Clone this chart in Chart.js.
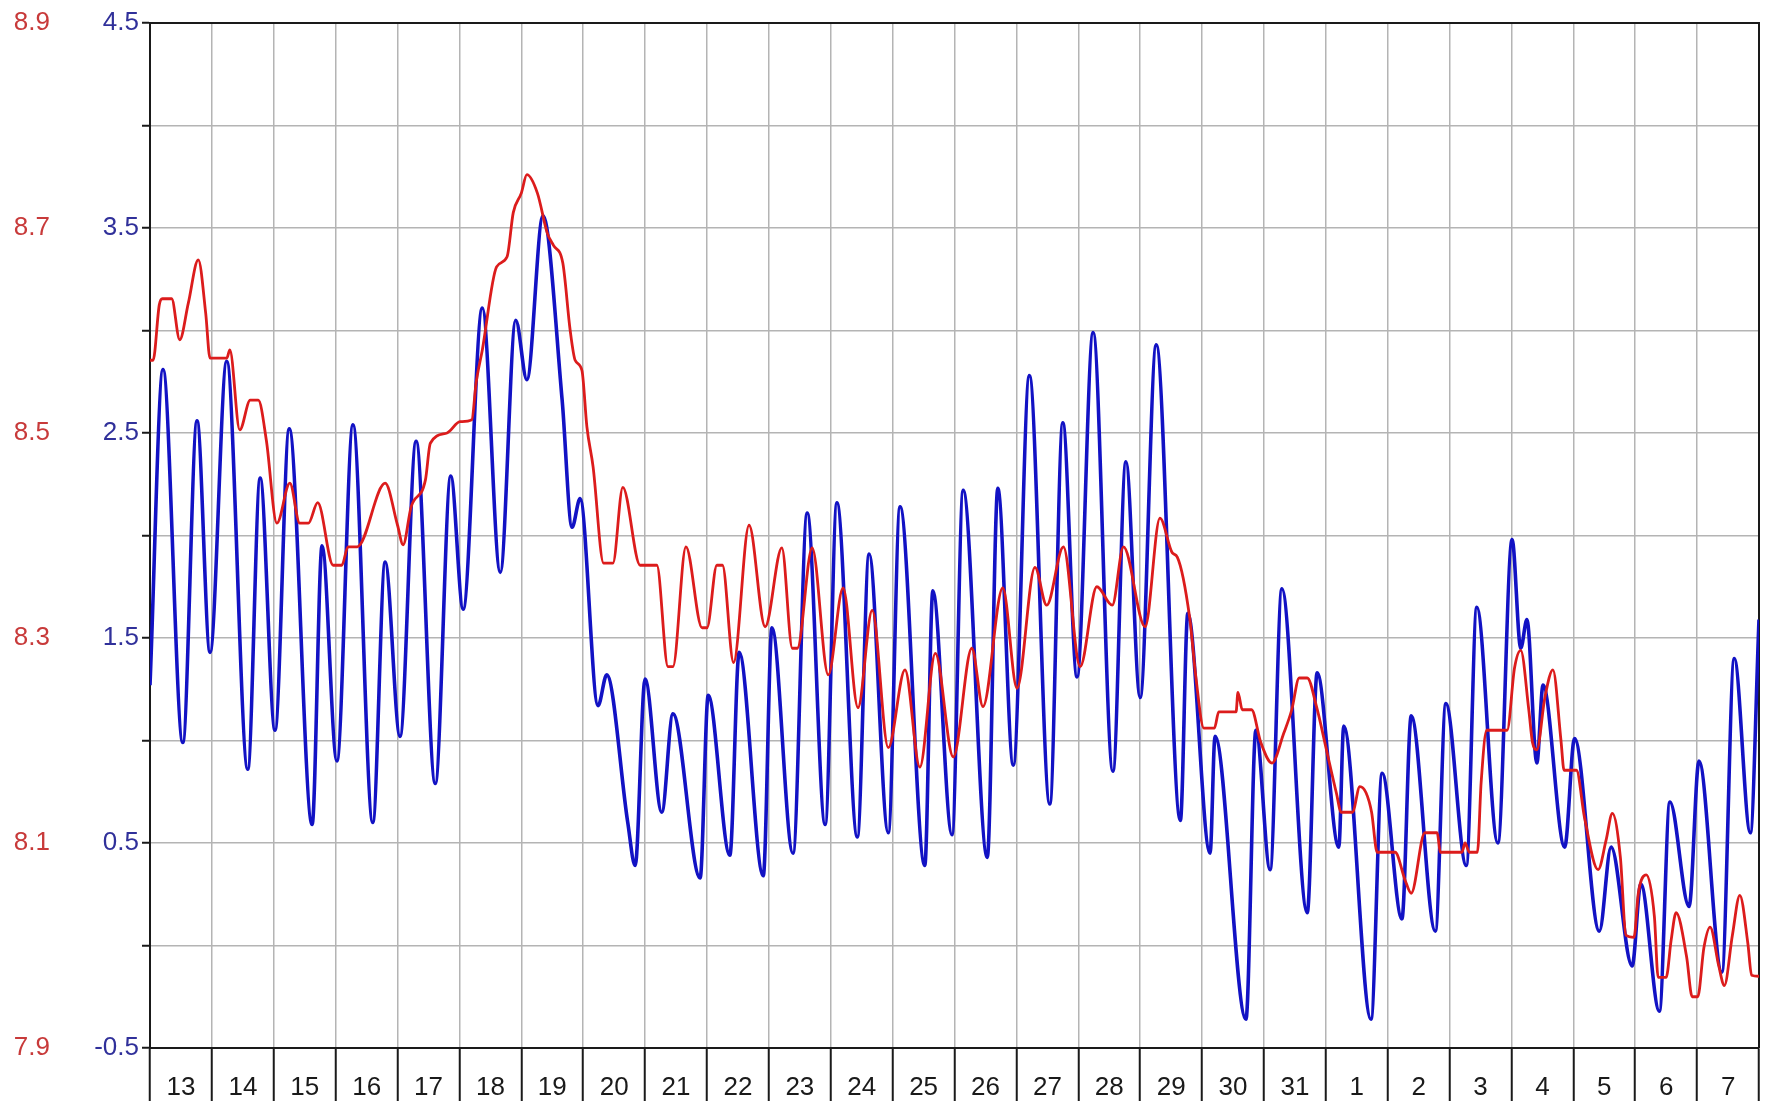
<!DOCTYPE html>
<html><head><meta charset="utf-8">
<script src="https://cdn.jsdelivr.net/npm/chart.js@4/dist/chart.umd.min.js"></script>
<style>html,body{margin:0;padding:0;background:#fff;}#wrap{width:1775px;height:1101px;}</style>
</head><body><div id="wrap"><canvas id="c" width="1775" height="1101"></canvas></div>
<script>
const dayLabels = ['13','14','15','16','17','18','19','20','21','22','23','24','25','26','27','28','29','30','31','1','2','3','4','5','6','7'];
const blueTicks = [-0.5,0,0.5,1,1.5,2,2.5,3,3.5,4,4.5];
const redTicks = [7.9,8.1,8.3,8.5,8.7,8.9];

const blueDays = [0.00,0.21,0.53,0.76,0.97,1.24,1.58,1.78,2.02,2.25,2.62,2.78,3.02,3.28,3.60,3.80,4.04,4.30,4.61,4.86,5.06,5.37,5.66,5.91,6.09,6.35,6.66,6.82,6.95,7.24,7.38,7.72,7.84,8.00,8.27,8.45,8.89,9.02,9.37,9.52,9.91,10.05,10.39,10.62,10.91,11.10,11.43,11.62,11.93,12.12,12.52,12.65,12.96,13.14,13.53,13.70,13.95,14.21,14.54,14.75,14.98,15.24,15.56,15.77,16.00,16.26,16.65,16.77,17.13,17.21,17.71,17.87,18.10,18.29,18.70,18.86,19.21,19.29,19.73,19.91,20.23,20.38,20.77,20.94,21.27,21.44,21.78,22.01,22.15,22.25,22.41,22.51,22.86,23.02,23.42,23.61,23.95,24.09,24.39,24.56,24.87,25.03,25.40,25.60,25.86,26.00];
const blueLevel = [1.27,2.81,0.99,2.56,1.43,2.85,0.86,2.28,1.05,2.52,0.59,1.95,0.90,2.54,0.60,1.87,1.02,2.46,0.79,2.29,1.64,3.11,1.82,3.05,2.76,3.56,2.66,2.04,2.18,1.17,1.32,0.60,0.39,1.30,0.65,1.13,0.33,1.22,0.44,1.43,0.34,1.55,0.45,2.11,0.59,2.16,0.53,1.91,0.55,2.14,0.39,1.73,0.54,2.22,0.43,2.23,0.88,2.78,0.69,2.55,1.31,2.99,0.85,2.36,1.21,2.93,0.61,1.62,0.45,1.02,-0.36,1.05,0.37,1.74,0.16,1.33,0.48,1.07,-0.36,0.84,0.13,1.12,0.07,1.18,0.39,1.65,0.50,1.98,1.45,1.59,0.89,1.27,0.48,1.01,0.07,0.48,-0.10,0.30,-0.32,0.70,0.19,0.90,-0.13,1.40,0.55,1.59];

const redDays = [0.00,0.05,0.15,0.20,0.35,0.48,0.62,0.78,0.90,0.97,1.24,1.29,1.45,1.62,1.75,1.88,2.05,2.26,2.42,2.56,2.71,2.96,3.10,3.20,3.35,3.80,4.00,4.09,4.22,4.45,4.53,4.80,5.01,5.20,5.27,5.37,5.60,5.77,5.87,6.00,6.09,6.26,6.42,6.52,6.67,6.79,6.87,6.98,7.06,7.16,7.33,7.48,7.64,7.92,8.19,8.37,8.45,8.66,8.92,9.00,9.16,9.25,9.43,9.68,9.94,10.21,10.38,10.46,10.70,10.96,11.20,11.44,11.67,11.93,12.20,12.44,12.69,12.98,13.28,13.46,13.78,14.01,14.30,14.49,14.76,15.03,15.30,15.55,15.73,16.08,16.32,16.52,16.60,16.80,16.90,17.03,17.20,17.27,17.55,17.58,17.65,17.80,17.95,18.13,18.32,18.45,18.57,18.70,18.85,19.01,19.17,19.25,19.43,19.55,19.65,19.74,19.83,20.12,20.28,20.38,20.60,20.80,20.85,21.20,21.25,21.32,21.45,21.51,21.60,21.93,22.05,22.15,22.28,22.34,22.41,22.54,22.67,22.80,22.85,23.05,23.18,23.40,23.53,23.63,23.76,23.85,23.98,24.05,24.18,24.31,24.37,24.50,24.58,24.66,24.83,24.92,25.01,25.11,25.21,25.35,25.44,25.57,25.69,25.82,25.88,26.00];
const redLevel = [8.571,8.571,8.625,8.631,8.631,8.591,8.627,8.669,8.617,8.573,8.573,8.581,8.503,8.532,8.532,8.493,8.412,8.451,8.412,8.412,8.432,8.371,8.371,8.389,8.389,8.451,8.410,8.391,8.428,8.454,8.490,8.500,8.511,8.513,8.549,8.581,8.662,8.672,8.715,8.734,8.752,8.734,8.695,8.683,8.666,8.600,8.571,8.561,8.506,8.467,8.373,8.373,8.447,8.371,8.371,8.272,8.272,8.389,8.310,8.310,8.371,8.371,8.276,8.410,8.311,8.388,8.290,8.290,8.388,8.264,8.349,8.232,8.327,8.193,8.269,8.174,8.285,8.184,8.290,8.233,8.349,8.251,8.369,8.332,8.389,8.272,8.350,8.332,8.389,8.311,8.417,8.383,8.379,8.320,8.262,8.212,8.212,8.228,8.228,8.247,8.230,8.230,8.198,8.178,8.207,8.230,8.261,8.261,8.233,8.191,8.149,8.130,8.130,8.155,8.149,8.130,8.091,8.091,8.064,8.051,8.110,8.110,8.091,8.091,8.100,8.091,8.091,8.159,8.210,8.210,8.271,8.288,8.230,8.198,8.191,8.242,8.269,8.200,8.171,8.171,8.125,8.074,8.103,8.129,8.086,8.010,8.008,8.051,8.069,8.028,7.969,7.969,8.005,8.032,7.989,7.950,7.950,7.998,8.018,7.980,7.961,8.010,8.049,8.002,7.971,7.970];

const FONT = {family: "'Liberation Sans', Arial, sans-serif", size: 26};
const GRID = '#b4b4b4';
const AXIS = '#1a1a1a';

const framePlugin = {
  id: 'frame',
  beforeDatasetsDraw(chart) {
    const {ctx, chartArea: a} = chart;
    ctx.save();
    ctx.strokeStyle = AXIS; ctx.lineWidth = 2;
    ctx.beginPath();
    ctx.moveTo(a.left, a.top); ctx.lineTo(a.right, a.top); ctx.lineTo(a.right, a.bottom);
    ctx.stroke();
    ctx.restore();
  }
};

function noPad(s) { s.paddingTop = 0; s.paddingBottom = 0; s.paddingLeft = 0; s.paddingRight = 0; }

new Chart(document.getElementById('c'), {
  type: 'line',
  data: {
    datasets: [
      {
        label: 'red',
        data: redDays.map((d, i) => ({x: d, y: redLevel[i]})),
        yAxisID: 'yR',
        borderColor: '#dc1c1c',
        borderWidth: 2.8,
        pointRadius: 0,
        cubicInterpolationMode: 'monotone',
        fill: false
      },
      {
        label: 'blue',
        data: blueDays.map((d, i) => ({x: d, y: blueLevel[i]})),
        yAxisID: 'yB',
        borderColor: '#1212c4',
        borderWidth: 3.6,
        pointRadius: 0,
        cubicInterpolationMode: 'monotone',
        fill: false
      }
    ]
  },
  options: {
    responsive: false,
    animation: false,
    devicePixelRatio: 1,
    layout: {padding: {top: 23, right: 16, bottom: 0, left: 0}},
    plugins: {legend: {display: false}, tooltip: {enabled: false}},
    scales: {
      x: {
        type: 'linear', position: 'bottom', min: 0, max: dayLabels.length,
        afterBuildTicks: s => { s.ticks = dayLabels.map((_, i) => ({value: i})).concat([{value: dayLabels.length}]); },
        afterFit: s => { s.height = 53; noPad(s); },
        grid: {color: GRID, lineWidth: 1.5, tickColor: AXIS, tickWidth: 2, tickLength: 53},
        border: {color: AXIS, width: 2},
        ticks: {autoSkip: false, maxRotation: 0, minRotation: 0, labelOffset: 31, padding: -29, color: '#1a1a1a', font: FONT,
          callback: v => (dayLabels[v] !== undefined ? dayLabels[v] : '')}
      },
      yB: {
        type: 'linear', position: 'left', weight: 0, min: -0.5, max: 4.5,
        afterBuildTicks: s => { s.ticks = blueTicks.map(v => ({value: v})); },
        afterFit: s => { s.width = 60; noPad(s); },
        grid: {color: GRID, lineWidth: 1.5, tickColor: AXIS, tickWidth: 2, tickLength: 8},
        border: {color: AXIS, width: 2},
        ticks: {padding: 3, color: '#30309a', font: FONT,
          callback: v => (Math.round(v * 2) % 2 !== 0 ? v.toFixed(1) : '')}
      },
      yR: {
        type: 'linear', position: 'left', weight: 1, min: 7.9, max: 8.9,
        afterBuildTicks: s => { s.ticks = redTicks.map(v => ({value: v})); },
        afterFit: s => { s.width = 90; noPad(s); },
        grid: {display: false, drawTicks: false},
        border: {display: false},
        ticks: {padding: 40, color: '#c83a3a', font: FONT, callback: v => v.toFixed(1)}
      }
    }
  },
  plugins: [framePlugin]
});
</script>
</body></html>
